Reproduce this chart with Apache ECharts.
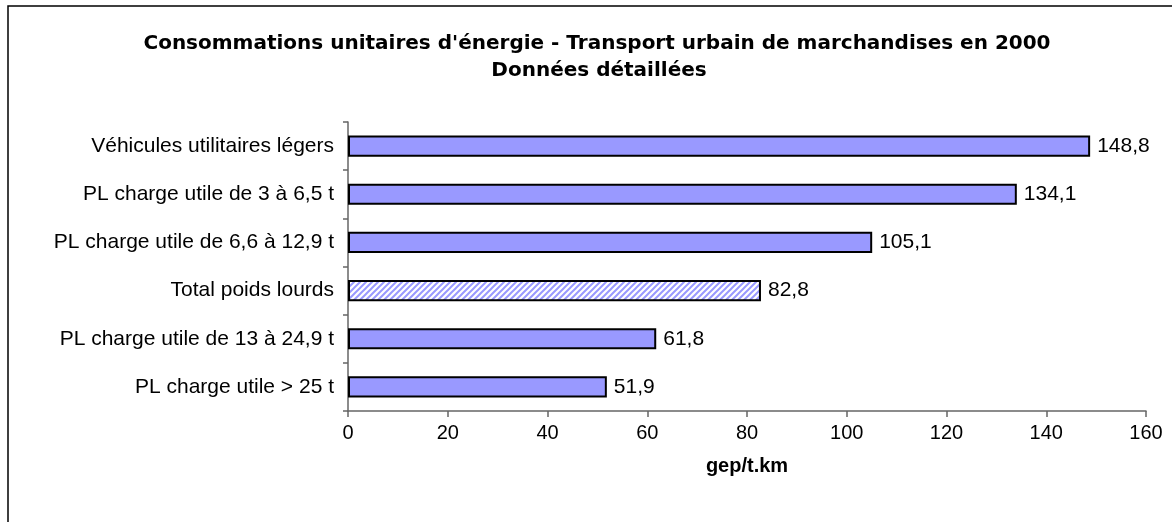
<!DOCTYPE html>
<html>
<head>
<meta charset="utf-8">
<script src="https://cdn.jsdelivr.net/npm/echarts@6/dist/echarts.min.js"></script>
<style>
  html, body { margin: 0; padding: 0; background: #fff; }
  #main { width: 1172px; height: 522px; }
</style>
</head>
<body>
<div id="main"></div>
<script>
// categories from bottom to top (category axis on y starts at the bottom)
var categories = [
    'PL charge utile > 25 t',
    'PL charge utile de 13 à 24,9 t',
    'Total poids lourds',
    'PL charge utile de 6,6 à 12,9 t',
    'PL charge utile de 3 à 6,5 t',
    'Véhicules utilitaires légers'
];
var values = [51.9, 61.8, 82.8, 105.1, 134.1, 148.8];
var xTicks = [0, 20, 40, 60, 80, 100, 120, 140, 160];

var myChart = echarts.init(document.getElementById('main'));

// hachures pour la barre "Total poids lourds"
var hatch = document.createElement('canvas');
hatch.width = 6;
hatch.height = 6;
var ctx = hatch.getContext('2d');
ctx.fillStyle = '#ffffff';
ctx.fillRect(0, 0, 6, 6);
ctx.strokeStyle = '#9999ff';
ctx.lineWidth = 2;
ctx.beginPath();
ctx.moveTo(-1, 7); ctx.lineTo(7, -1);
ctx.moveTo(-4, 4); ctx.lineTo(4, -4);
ctx.moveTo(2, 10); ctx.lineTo(10, 2);
ctx.stroke();

var barData = values.map(function(v, i) {
    var item = { value: v };
    if (categories[i] === 'Total poids lourds') {
        item.itemStyle = { color: { image: hatch, repeat: 'repeat' } };
    }
    return item;
});

var titleStyle = { fontFamily: 'DejaVu Sans', fontWeight: 'bold', fontSize: 20, color: '#000' };
var textFont = 'Liberation Sans';

var option = {
    backgroundColor: '#ffffff',
    animation: false,
    title: [{
        text: "Consommations unitaires d'énergie - Transport urbain de marchandises en 2000",
        left: 592,
        top: 29,
        textAlign: 'center',
        textStyle: titleStyle
    }, {
        text: 'Données détaillées',
        left: 594,
        top: 56,
        textAlign: 'center',
        textStyle: titleStyle
    }],
    graphic: [{
        type: 'rect',
        shape: { x: 8, y: 6, width: 1300, height: 700 },
        style: { fill: 'none', stroke: '#000', lineWidth: 1.5 },
        silent: true
    }],
    grid: {
        left: 348,
        right: 26,
        top: 122,
        bottom: 111
    },
    xAxis: {
        type: 'value',
        min: 0,
        max: 160,
        interval: 20,
        name: 'gep/t.km',
        nameLocation: 'middle',
        nameGap: 45,
        nameTextStyle: { fontFamily: textFont, fontWeight: 'bold', fontSize: 20, color: '#000' },
        axisLine: { show: true, lineStyle: { color: '#666', width: 1.5 } },
        axisTick: { show: true, length: 6, lineStyle: { color: '#666', width: 1.5 } },
        axisLabel: {
            margin: 12,
            fontFamily: textFont,
            fontSize: 20,
            color: '#000',
            formatter: function(v) { return xTicks.indexOf(v) >= 0 ? String(v) : ''; }
        },
        splitLine: { show: false }
    },
    yAxis: {
        type: 'category',
        data: categories,
        axisLine: { show: true, lineStyle: { color: '#666', width: 1.5 } },
        axisTick: { show: true, length: 5, inside: false, lineStyle: { color: '#666', width: 1.5 } },
        axisLabel: {
            margin: 14,
            fontFamily: textFont,
            fontSize: 21,
            color: '#000'
        }
    },
    series: [{
        type: 'bar',
        data: barData,
        barWidth: '44%',
        itemStyle: {
            color: '#9999ff',
            borderColor: '#000',
            borderWidth: 2
        },
        label: {
            show: true,
            position: 'right',
            distance: 7,
            fontFamily: textFont,
            fontSize: 21,
            color: '#000',
            formatter: function(p) { return String(p.value).replace('.', ','); }
        }
    }]
};

myChart.setOption(option);
</script>
</body>
</html>
